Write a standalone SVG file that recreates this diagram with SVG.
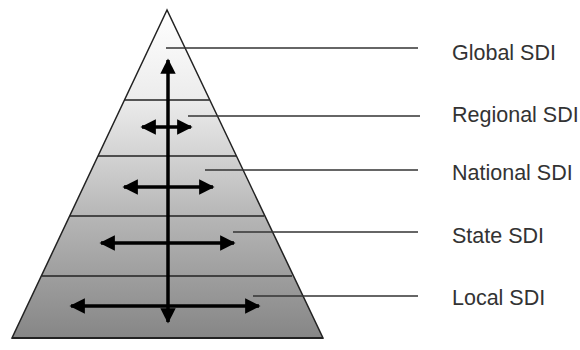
<svg xmlns="http://www.w3.org/2000/svg" width="580" height="350" viewBox="0 0 580 350">
<style>
.edge{fill:url(#g);stroke:#222;stroke-width:1.5}
.band{stroke:#222;stroke-width:1.5}
.lead{stroke:#333;stroke-width:1.6}
.arr{stroke:#000;stroke-width:3.5;fill:none}
.lbl{font-family:"Liberation Sans",Arial,sans-serif;font-size:21.5px;fill:#333}
</style>
<defs>
<linearGradient id="g" gradientUnits="userSpaceOnUse" x1="0" y1="10" x2="0" y2="338">
<stop offset="0" stop-color="#ffffff"/>
<stop offset="0.27" stop-color="#ececec"/>
<stop offset="0.45" stop-color="#d2d2d2"/>
<stop offset="0.63" stop-color="#b6b6b6"/>
<stop offset="0.82" stop-color="#9d9d9d"/>
<stop offset="1" stop-color="#868686"/>
</linearGradient>
<marker id="ah" viewBox="0 0 10 10" refX="9" refY="5" markerWidth="4.6" markerHeight="4.4" orient="auto-start-reverse" markerUnits="strokeWidth">
<path d="M0,0 L10,5 L0,10 Z" fill="#000"/>
</marker>
</defs>
<g id="pyramid">
<polygon points="167,10 12,338 323,338" class="edge"/>
<line class="band" x1="124.5" y1="100" x2="209.5" y2="100"/>
<line class="band" x1="98" y1="156" x2="236" y2="156"/>
<line class="band" x1="70" y1="216" x2="264" y2="216"/>
<line class="band" x1="42" y1="276" x2="292" y2="276"/>
<line x1="12" y1="338" x2="323" y2="338" stroke="#222" stroke-width="2"/>
</g>
<g id="connectors">
<line class="arr" x1="168" y1="60" x2="168" y2="322" marker-start="url(#ah)" marker-end="url(#ah)"/>
<line class="arr" x1="142" y1="127" x2="191" y2="127" marker-start="url(#ah)" marker-end="url(#ah)"/>
<line class="arr" x1="124" y1="187" x2="213" y2="187" marker-start="url(#ah)" marker-end="url(#ah)"/>
<line class="arr" x1="101" y1="243" x2="234" y2="243" marker-start="url(#ah)" marker-end="url(#ah)"/>
<line class="arr" x1="71" y1="306" x2="259" y2="306" marker-start="url(#ah)" marker-end="url(#ah)"/>
<line class="lead" x1="166" y1="48" x2="418" y2="48"/>
<line class="lead" x1="188" y1="116" x2="420" y2="116"/>
<line class="lead" x1="205" y1="170" x2="418" y2="170"/>
<line class="lead" x1="233" y1="232" x2="418" y2="232"/>
<line class="lead" x1="253" y1="296" x2="418" y2="296"/>
</g>
<g id="global"><text class="lbl" x="452" y="60">Global SDI</text></g>
<g id="regional"><text class="lbl" x="452" y="122" font-size="21">Regional SDI</text></g>
<g id="national"><text class="lbl" x="452" y="180">National SDI</text></g>
<g id="state"><text class="lbl" x="452" y="243">State SDI</text></g>
<g id="local"><text class="lbl" x="452" y="305">Local SDI</text></g>
</svg>
